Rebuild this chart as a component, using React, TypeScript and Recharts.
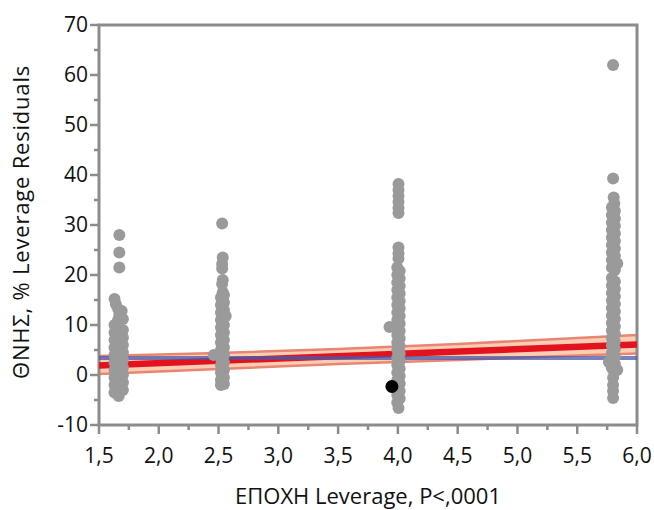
import React from "react";
import { ComposedChart, Scatter, Line, Area, XAxis, YAxis, ReferenceArea, ReferenceLine } from "recharts";

// Leverage points: [x, y]
const epochA: [number, number][] = [
  [1.67, 28], [1.67, 24.5], [1.67, 21.5], [1.63, 15.2], [1.64, 14.2], [1.66, 13.2], [1.69, 12.8],
  [1.67, 12], [1.7, 11.2], [1.66, 11],
  [1.63, 10], [1.63, 8.5], [1.63, 7], [1.63, 5.5], [1.63, 4], [1.63, 2.5], [1.63, 1], [1.63, -0.5], [1.63, -2], [1.63, -3.5],
  [1.665, 9.5], [1.665, 8], [1.665, 6.5], [1.665, 5], [1.665, 3.5], [1.665, 2], [1.665, 0.5], [1.665, -1], [1.665, -2.5], [1.665, -4.2],
  [1.7, 9], [1.7, 7.5], [1.7, 6], [1.7, 4.5], [1.7, 3], [1.7, 1.5], [1.7, 0], [1.7, -1.5], [1.7, -3],
];
const epochB: [number, number][] = [
  [2.53, 30.3], [2.535, 23.5], [2.53, 22.2], [2.53, 21.3], [2.535, 19], [2.53, 18.2], [2.535, 16.5],
  [2.52, 15.5], [2.52, 14], [2.52, 12.5], [2.52, 11], [2.52, 9.5], [2.52, 8], [2.52, 6.5], [2.52, 5],
  [2.52, 3.5], [2.52, 2], [2.52, 0.5], [2.52, -1], [2.52, -2],
  [2.545, 16], [2.545, 14.5], [2.545, 13], [2.56, 11.8], [2.545, 10], [2.545, 8.5], [2.545, 7], [2.545, 5.5],
  [2.545, 4], [2.545, 2.5], [2.545, 1], [2.545, -0.5], [2.545, -1.8],
  [2.46, 4],
];
const epochC: [number, number][] = [
  [4.005, 38.2], [4.005, 37], [4.005, 35.8], [4.005, 34.6], [4.005, 33.4], [4.005, 32.4],
  [4.005, 25.5], [4.005, 24.3], [4.005, 23.3],
  [3.995, 21.5], [3.995, 20], [3.995, 18.5], [3.995, 17], [3.995, 15.5], [3.995, 14], [3.995, 12.5],
  [3.995, 11], [3.995, 9.5], [3.995, 8], [3.995, 6.5], [3.995, 5], [3.995, 3.5], [3.995, 2], [3.995, 0.5],
  [3.995, -1], [3.995, -2.5], [3.995, -4], [3.995, -5.5],
  [4.015, 20.8], [4.015, 19.3], [4.015, 17.8], [4.015, 16.3], [4.015, 14.8], [4.015, 13.3], [4.015, 11.8],
  [4.015, 10.3], [4.015, 8.8], [4.015, 7.3], [4.015, 5.8], [4.015, 4.3], [4.015, 2.8], [4.015, 1.3],
  [4.015, -0.2], [4.015, -1.7], [4.015, -3.2], [4.015, -4.7], [4.005, -6.6],
  [3.93, 9.6],
];
const epochD: [number, number][] = [
  [5.8, 62], [5.8, 39.3], [5.805, 35.5], [5.81, 34.3],
  [5.79, 33.5], [5.79, 32], [5.79, 30.5], [5.79, 29], [5.79, 27.5], [5.79, 26], [5.79, 24.5], [5.79, 23], [5.79, 21.5],
  [5.815, 32.8], [5.815, 31.3], [5.815, 29.8], [5.815, 28.3], [5.815, 26.8], [5.815, 25.3], [5.815, 23.8], [5.835, 22.3], [5.815, 21],
  [5.79, 19.4], [5.79, 17.9], [5.79, 16.4], [5.79, 14.9], [5.79, 13.4], [5.79, 11.9], [5.79, 10.4], [5.79, 8.9],
  [5.79, 7.4], [5.79, 5.9], [5.79, 4.4], [5.79, 2.9], [5.79, 1.4],
  [5.815, 18.7], [5.815, 17.2], [5.815, 15.7], [5.815, 14.2], [5.815, 12.7], [5.815, 11.2], [5.815, 9.7], [5.815, 8.2],
  [5.815, 6.7], [5.815, 5.2], [5.815, 3.7], [5.815, 2.2], [5.815, 0.8],
  [5.765, 2.6], [5.835, 1],
  [5.8, -0.5], [5.8, -2], [5.8, -3.2], [5.8, -4.6],
];
const highlighted: [number, number][] = [[3.95, -2.3]];

// fit line, confidence band, mean
const fitX = [1.5, 6.0];
const fitY = [1.9, 6.1];
const bandX = [1.5, 2.5, 3.5, 4.5, 5.5, 6.0];
const bandLow = [0.2, 1.2, 2.2, 3.0, 3.9, 4.3];
const bandHigh = [3.8, 4.4, 5.2, 6.2, 7.4, 8.0];
const meanY = 3.4;

const xTicks = [1.5, 1.75, 2, 2.25, 2.5, 2.75, 3, 3.25, 3.5, 3.75, 4, 4.25, 4.5, 4.75, 5, 5.25, 5.5, 5.75, 6];
const yTicks = [-10, -5, 0, 5, 10, 15, 20, 25, 30, 35, 40, 45, 50, 55, 60, 65, 70];

const toPts = (arr: [number, number][]) => arr.map(([x, y]) => ({ x, y }));
const fitData = fitX.map((x, i) => ({ x, y: fitY[i] }));
const bandData = bandX.map((x, i) => ({ x, band: [bandLow[i], bandHigh[i]] }));

const FONT = "'Open Sans', 'DejaVu Sans', sans-serif";
const AXIS = "#8c8c8c";
const TEXT = "#111111";

const XTick = (props: any) => {
  const { x, y, payload } = props;
  const v = payload.value as number;
  const major = Math.abs(v * 2 - Math.round(v * 2)) < 1e-6;
  return (
    <g>
      <line x1={x} x2={x} y1={y} y2={y + (major ? 9 : 5)} stroke={AXIS} strokeWidth={2.5} />
      {major && (
        <text x={x} y={y + 38} textAnchor="middle" fontSize={21} fill={TEXT} fontFamily={FONT}>
          {v.toFixed(1).replace(".", ",")}
        </text>
      )}
    </g>
  );
};

const YTick = (props: any) => {
  const { x, y, payload } = props;
  const v = payload.value as number;
  const major = v % 10 === 0;
  return (
    <g>
      <line x1={x} x2={x - (major ? 9 : 5)} y1={y} y2={y} stroke={AXIS} strokeWidth={2.5} />
      {major && (
        <text x={x - 11} y={y + 7} textAnchor="end" fontSize={21} fill={TEXT} fontFamily={FONT}>
          {v}
        </text>
      )}
    </g>
  );
};

const dot = (fill: string, r: number) => (props: any) =>
  <circle cx={props.cx} cy={props.cy} r={r} fill={fill} />;

export default function App() {
  return (
    <div style={{ position: "absolute", left: 0, top: 0, background: "#fff" }}>
      <ComposedChart width={654} height={510} margin={{ top: 25, right: 17, left: 39, bottom: 0 }}>
        <XAxis
          dataKey="x"
          type="number"
          domain={[1.5, 6]}
          ticks={xTicks}
          interval={0}
          allowDataOverflow
          axisLine={false}
          tickLine={false}
          tickSize={0}
          tickMargin={0}
          height={85}
          tick={<XTick />}
          label={{
            content: () => (
              <text x={368} y={504} textAnchor="middle" fontSize={22} fill={TEXT} fontFamily={FONT}>
                ΕΠΟΧΗ Leverage, P&lt;,0001
              </text>
            ),
          }}
        />
        <YAxis
          type="number"
          domain={[-10, 70]}
          ticks={yTicks}
          interval={0}
          allowDataOverflow
          axisLine={false}
          tickLine={false}
          tickSize={0}
          tickMargin={0}
          width={60}
          tick={<YTick />}
          label={{
            content: () => (
              <text x={29} y={222} transform="rotate(-90 29 222)" textAnchor="middle" fontSize={22} letterSpacing={0.8} fill={TEXT} fontFamily={FONT}>
                ΘΝΗΣ, % Leverage Residuals
              </text>
            ),
          }}
        />
        <Area
          data={bandData}
          dataKey="band"
          type="linear"
          fill="#fbcdb3"
          fillOpacity={1}
          stroke="#e98573"
          strokeWidth={2.5}
          isAnimationActive={false}
        />
        <Line data={fitData} dataKey="y" type="linear" stroke="#e3121f" strokeWidth={6.5} dot={false} isAnimationActive={false} />
        <ReferenceLine y={meanY} stroke="#4a58a8" strokeOpacity={0.75} strokeWidth={4} />
        <Scatter data={toPts(epochA)} dataKey="y" shape={dot("#9a9a9a", 6)} isAnimationActive={false} />
        <Scatter data={toPts(epochB)} dataKey="y" shape={dot("#9a9a9a", 6)} isAnimationActive={false} />
        <Scatter data={toPts(epochC)} dataKey="y" shape={dot("#9a9a9a", 6)} isAnimationActive={false} />
        <Scatter data={toPts(epochD)} dataKey="y" shape={dot("#9a9a9a", 6)} isAnimationActive={false} />
        <Scatter data={toPts(highlighted)} dataKey="y" shape={dot("#000000", 6.5)} isAnimationActive={false} />
        <ReferenceArea x1={1.5} x2={6} y1={-10} y2={70} fill="none" stroke={AXIS} strokeWidth={3} ifOverflow="visible" />
      </ComposedChart>
    </div>
  );
}
